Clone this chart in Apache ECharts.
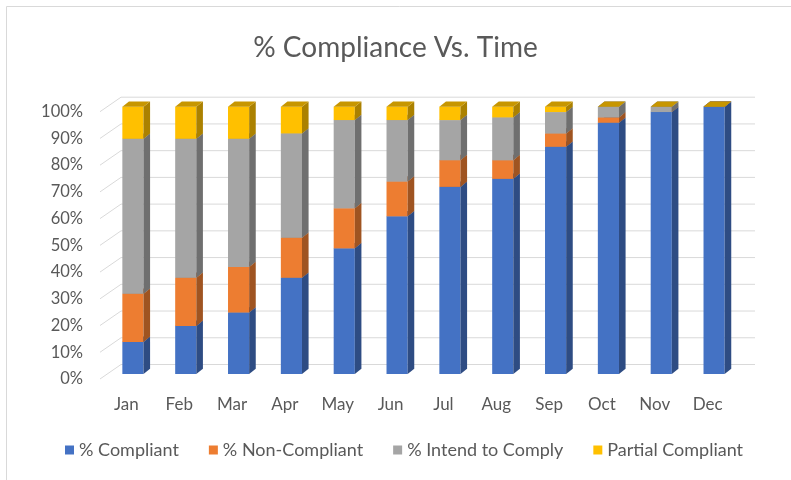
<!DOCTYPE html>
<html>
<head>
<meta charset="utf-8">
<script src="https://cdn.jsdelivr.net/npm/echarts@6/dist/echarts.min.js"></script>
<style>
  html, body { margin: 0; padding: 0; background: #fff; }
  #chart { width: 791px; height: 480px; }
</style>
</head>
<body>
<div id="chart"></div>
<script>
var months = ['Jan', 'Feb', 'Mar', 'Apr', 'May', 'Jun', 'Jul', 'Aug', 'Sep', 'Oct', 'Nov', 'Dec'];
var compliant = [12, 18, 23, 36, 47, 59, 70, 73, 85, 94, 98, 100];
var nonCompliant = [18, 18, 17, 15, 15, 13, 10, 7, 5, 2, 0, 0];
var intendToComply = [58, 52, 48, 39, 33, 23, 15, 16, 8, 4, 2, 0];
var partialCompliant = [12, 12, 12, 10, 5, 5, 5, 4, 2, 0, 0, 0];
var seriesNames = ['% Compliant', '% Non-Compliant', '% Intend to Comply', 'Partial Compliant'];
var yTicks = [0, 10, 20, 30, 40, 50, 60, 70, 80, 90, 100];

var colors = ['#4472C4', '#ED7D31', '#A5A5A5', '#FFC000'];
var textColor = '#595959';
var font = 'Lato';

// fake 3d: offsets from the front plane to the bar front, bar depth, back wall
var front = [6.5, -5],
    depth = [6.6, -5.3],
    wall = [21, -14.5];

var shade = function (hex, f) {
    var n = parseInt(hex.slice(1), 16);
    var r = Math.round((n >> 16 & 255) * f),
        g = Math.round((n >> 8 & 255) * f),
        b = Math.round((n & 255) * f);
    return 'rgb(' + r + ',' + g + ',' + b + ')';
};

var renderBar = function (params, api) {
    var c = api.value(0),
        lo = api.value(1),
        hi = api.value(2),
        color = colors[params.seriesIndex - 1];
    var pLo = api.coord([c, lo]),
        pHi = api.coord([c, hi]);
    var bw = api.size([1, 0])[0] * 0.4;
    var x0 = pLo[0] - bw / 2 + front[0],
        x1 = x0 + bw,
        yLo = pLo[1] + front[1],
        yHi = pHi[1] + front[1];
    var children = [];
    if (hi > lo) {
        children.push({
            type: 'rect',
            shape: { x: x0, y: yHi, width: bw, height: yLo - yHi },
            style: { fill: color }
        });
        children.push({
            type: 'polygon',
            shape: { points: [[x1, yLo], [x1, yHi], [x1 + depth[0], yHi + depth[1]], [x1 + depth[0], yLo + depth[1]]] },
            style: { fill: shade(color, 0.67) }
        });
    }
    children.push({
        type: 'polygon',
        shape: { points: [[x0, yHi], [x1, yHi], [x1 + depth[0], yHi + depth[1]], [x0 + depth[0], yHi + depth[1]]] },
        style: { fill: shade(color, 0.78) }
    });
    return { type: 'group', children: children };
};

var renderGridLine = function (params, api) {
    var cs = params.coordSys;
    var y = api.coord([0, api.value(0)])[1];
    return {
        type: 'polyline',
        shape: { points: [[cs.x, y], [cs.x + wall[0], y + wall[1]], [cs.x + cs.width + wall[0], y + wall[1]]] },
        style: { stroke: '#D9D9D9', lineWidth: 1, fill: null }
    };
};

var stacks = [compliant, nonCompliant, intendToComply, partialCompliant];
var base = months.map(function () { return 0; });
var barSeries = stacks.map(function (values, si) {
    var data = values.map(function (v, i) {
        var item = [i, base[i], base[i] + v];
        base[i] += v;
        return item;
    });
    return {
        type: 'custom',
        name: seriesNames[si],
        renderItem: renderBar,
        itemStyle: { color: colors[si] },
        encode: { x: 0, y: [1, 2] },
        clip: false,
        z: 3,
        data: data
    };
});

var chart = echarts.init(document.getElementById('chart'));
chart.setOption({
    animation: false,
    title: {
        text: '% Compliance Vs. Time',
        left: 'center',
        top: 29,
        textStyle: { color: textColor, fontSize: 28, fontWeight: 'normal', fontFamily: font }
    },
    legend: {
        data: seriesNames,
        bottom: 16,
        left: 60,
        icon: 'rect',
        itemWidth: 9,
        itemHeight: 9,
        itemGap: 30,
        textStyle: { color: textColor, fontSize: 18, fontFamily: font }
    },
    graphic: [{
        type: 'rect',
        shape: { x: 6.5, y: 6.5, width: 800, height: 500 },
        style: { fill: null, stroke: '#D9D9D9', lineWidth: 1 },
        silent: true
    }],
    grid: { left: 100, right: 57, top: 111.7, bottom: 101 },
    xAxis: {
        type: 'category',
        data: months,
        axisLine: { show: false },
        axisTick: { show: false },
        axisLabel: { color: textColor, fontSize: 17, fontFamily: font, margin: 17 }
    },
    yAxis: {
        type: 'value',
        min: 0,
        max: 100,
        interval: 10,
        axisLine: { show: false },
        axisTick: { show: false },
        splitLine: { show: false },
        axisLabel: { color: textColor, fontSize: 16.5, fontFamily: font, margin: 17, formatter: '{value}%' }
    },
    series: [{
        type: 'custom',
        name: 'grid',
        renderItem: renderGridLine,
        encode: { y: 0 },
        clip: false,
        z: 1,
        silent: true,
        data: yTicks.map(function (v) { return [v]; })
    }].concat(barSeries)
});
</script>
</body>
</html>
